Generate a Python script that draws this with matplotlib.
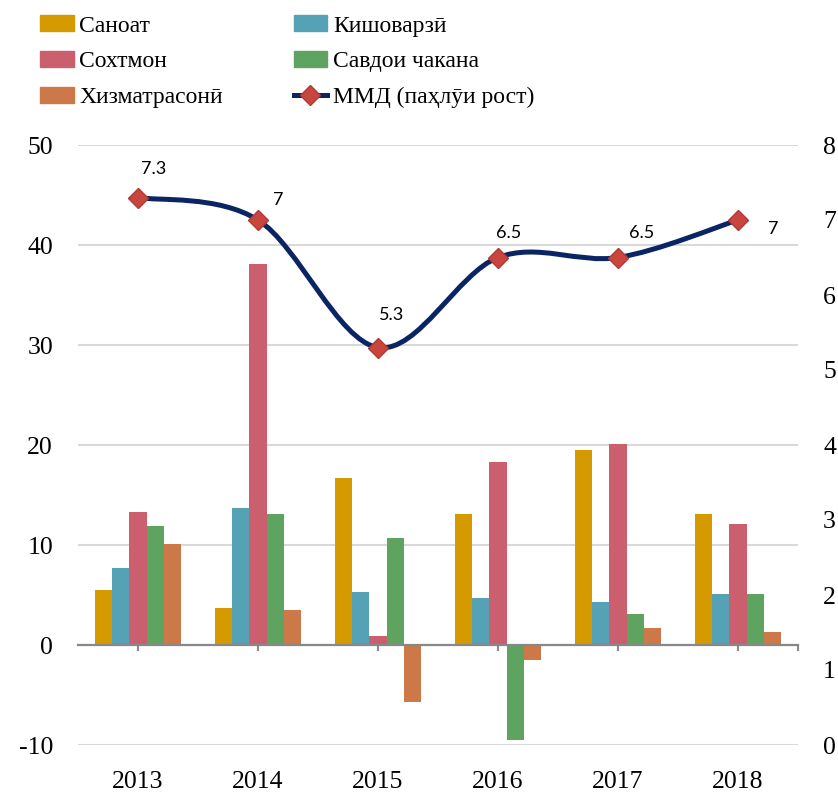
import numpy as np
import matplotlib
matplotlib.use('Agg')
import matplotlib.pyplot as plt
from matplotlib.path import Path
from matplotlib.patches import PathPatch, Patch
from matplotlib.lines import Line2D

years = ['2013', '2014', '2015', '2016', '2017', '2018']
sanoat = [5.5, 3.7, 16.7, 13.1, 19.5, 13.1]
kishovarzi = [7.7, 13.7, 5.3, 4.7, 4.3, 5.1]
sokhtmon = [13.3, 38.1, 0.9, 18.3, 20.1, 12.1]
savdo = [11.9, 13.1, 10.7, -9.5, 3.1, 5.1]
khizmat = [10.1, 3.5, -5.7, -1.5, 1.7, 1.3]
mmd = [7.3, 7.0, 5.3, 6.5, 6.5, 7.0]
mmd_labels = ['7.3', '7', '5.3', '6.5', '6.5', '7']

names = ['Саноат', 'Кишоварзӣ', 'Сохтмон', 'Савдои чакана', 'Хизматрасонӣ']
line_name = 'ММД (паҳлӯи рост)'
colors = ['#d49a00', '#55a2b6', '#cb5f6e', '#5ea360', '#cc7849']
serif = ['Liberation Serif', 'DejaVu Serif']

plt.rcParams['axes.unicode_minus'] = False

fig = plt.figure(figsize=(8.38, 7.96), dpi=100)
ax = fig.add_axes([78 / 838, 51 / 796, 720 / 838, 600 / 796])

x = np.arange(len(years))
w = 0.1433
series = [sanoat, kishovarzi, sokhtmon, savdo, khizmat]
for k, (vals, c) in enumerate(zip(series, colors)):
    ax.bar(x + (k - 2) * w, vals, width=w, color=c, zorder=2)

ax.set_xlim(-0.5, 5.5)
ax.set_ylim(-10, 50)
ax.set_yticks(range(-10, 51, 10))
ax.yaxis.grid(True, color='#d9d9d9', linewidth=1.5, zorder=0)
ax.set_axisbelow(True)
for s in ['top', 'right', 'left']:
    ax.spines[s].set_visible(False)
ax.spines['bottom'].set_position(('data', 0))
ax.spines['bottom'].set_color('#888888')
ax.spines['bottom'].set_linewidth(1.6)
ax.spines['bottom'].set_zorder(3)
ax.set_xticks(list(x) + [5.5])
ax.set_xticklabels([])
ax.tick_params(axis='x', length=4, width=1.5, color='#888888')
ax.tick_params(axis='y', length=0, pad=18, labelsize=18.5)
for t in ax.get_yticklabels():
    t.set_family(serif)

sec = ax.secondary_xaxis(location=0)
sec.set_xticks(x)
sec.set_xticklabels(years, family=serif, fontsize=18.5)
sec.tick_params(length=0, pad=19)
sec.spines['bottom'].set_visible(False)

ax2 = ax.twinx()
ax2.set_ylim(0, 8)
ax2.set_yticks(range(0, 9))
for s in ['top', 'right', 'left', 'bottom']:
    ax2.spines[s].set_visible(False)
ax2.tick_params(axis='y', length=0, pad=18, labelsize=18.5)
for t in ax2.get_yticklabels():
    t.set_family(serif)

# smoothed line (Excel-style bezier through the points)
pts = np.column_stack([x, mmd]).astype(float)
n = len(pts)
verts = [pts[0]]
codes = [Path.MOVETO]
for i in range(n - 1):
    p0 = pts[i - 1] if i > 0 else pts[i]
    p1 = pts[i]
    p2 = pts[i + 1]
    p3 = pts[i + 2] if i + 2 < n else pts[i + 1]
    verts += [p1 + (p2 - p0) / 6, p2 - (p3 - p1) / 6, p2]
    codes += [Path.CURVE4] * 3
ax2.add_patch(PathPatch(Path(verts, codes), facecolor='none',
                        edgecolor='#0a2464', linewidth=3.6, zorder=3))
ax2.plot(x, mmd, linestyle='none', marker='D', markersize=10,
         markerfacecolor='#c9463f', markeredgecolor='#b03a35', zorder=4)

offsets = [(16, 28), (20, 20), (14, 32), (11, 24), (24, 24), (35, -9)]
for xi, yi, lab, off in zip(x, mmd, mmd_labels, offsets):
    ax2.annotate(lab, (xi, yi), xytext=off, textcoords='offset pixels',
                 ha='center', va='center', fontsize=13, family='Lato',
                 bbox=dict(boxstyle='square,pad=0.15', fc='white', ec='none'),
                 zorder=5)

handles = [Patch(color=colors[0]), Patch(color=colors[2]), Patch(color=colors[4]),
           Patch(color=colors[1]), Patch(color=colors[3]),
           Line2D([], [], color='#0a2464', linewidth=3.6, marker='D', markersize=10,
                  markerfacecolor='#c9463f', markeredgecolor='#b03a35')]
labels = [names[0], names[2], names[4], names[1], names[3], line_name]
fig.legend(handles, labels, ncol=2, loc='upper left', bbox_to_anchor=(0.03, 1.0),
           frameon=False, prop={'family': serif, 'size': 17}, borderpad=0.15,
           handlelength=1.4, handleheight=0.65, handletextpad=0.25,
           labelspacing=0.62, columnspacing=3.0)

fig.savefig('out.png', dpi=100)
